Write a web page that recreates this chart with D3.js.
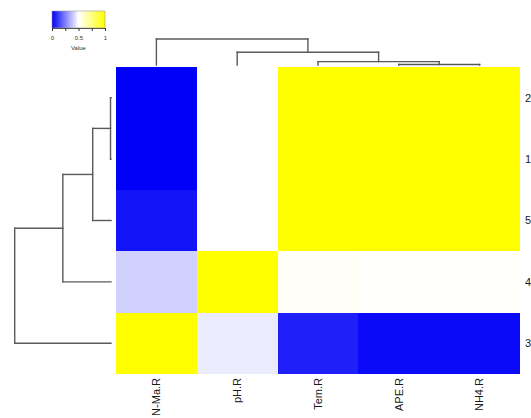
<!DOCTYPE html>
<html>
<head>
<meta charset="utf-8">
<script src="https://cdn.jsdelivr.net/npm/d3@7"></script>
<style>
  html, body { margin: 0; padding: 0; background: #fff; }
  svg { display: block; font-family: "Liberation Sans", Arial, sans-serif; }
</style>
</head>
<body>
<svg id="chart" width="531" height="418"></svg>
<script>
// ---- data ----
const colLabels = ["N-Ma.R", "pH.R", "Tem.R", "APE.R", "NH4.R"];
const rowLabels = ["2", "1", "5", "4", "3"];
const row2 = [0.00, 0.50, 1.00, 1.00, 1.00];
const row1 = [0.00, 0.50, 1.00, 1.00, 1.00];
const row5 = [0.04, 0.50, 1.00, 1.00, 1.00];
const row4 = [0.41, 1.00, 0.515, 0.505, 0.505];
const row3 = [1.00, 0.46, 0.06, 0.02, 0.02];
const values = [row2, row1, row5, row4, row3];
// dendrograms (R-style merge: negative = leaf index (1-based, in display order), positive = earlier merge)
const colMerge = [[-4, -5], [-3, 1], [-2, 2], [-1, 3]];
const colHeight = [0.02, 0.13, 0.49, 1.0];
const rowMerge = [[-1, -2], [1, -3], [2, -4], [3, -5]];
const rowHeight = [0.005, 0.19, 0.50, 1.0];
// colour key
const keyTicks = [0, 0.25, 0.5, 0.75, 1];
const keyLabels = ["0", "", "0.5", "", "1"];
const keyTitle = "Value";

// ---- layout ----
const svg = d3.select("#chart");
const hm = { x0: 116, x1: 520, y0: 67, y1: 374 };

const x = d3.scaleBand().domain(d3.range(colLabels.length)).range([hm.x0, hm.x1]);
const y = d3.scaleBand().domain(d3.range(rowLabels.length)).range([hm.y0, hm.y1]);
const color = d3.scaleLinear().domain([0, 0.5, 1]).range(["#0000f8", "#ffffff", "#ffff00"]);

// heatmap cells
const cells = [];
values.forEach((r, i) => r.forEach((v, j) => cells.push({ i, j, v })));
svg.append("g").attr("shape-rendering", "crispEdges")
  .selectAll("rect").data(cells).join("rect")
  .attr("x", d => Math.round(x(d.j)))
  .attr("y", d => Math.round(y(d.i)))
  .attr("width", d => Math.round(x(d.j) + x.bandwidth()) - Math.round(x(d.j)))
  .attr("height", d => Math.round(y(d.i) + y.bandwidth()) - Math.round(y(d.i)))
  .attr("fill", d => color(d.v));

// column labels
svg.append("g").selectAll("text").data(colLabels).join("text")
  .attr("transform", (d, j) => `translate(${x(j) + x.bandwidth() / 2},378) rotate(-90)`)
  .attr("text-anchor", "end")
  .attr("dy", "0.35em")
  .attr("font-size", 11)
  .attr("fill", "#1a1a1a")
  .text(d => d);

// row labels
svg.append("g").selectAll("text").data(rowLabels).join("text")
  .attr("x", 525)
  .attr("y", (d, i) => y(i) + y.bandwidth() / 2)
  .attr("dy", "0.35em")
  .attr("font-size", 11)
  .attr("fill", "#1a1a1a")
  .text(d => d);

// dendrogram builder
function buildDendro(merge, heights, leafPos) {
  const nodes = [];
  const segs = [];
  const get = k => k < 0 ? { pos: leafPos(-k - 1), h: 0 } : nodes[k - 1];
  merge.forEach((m, idx) => {
    const a = get(m[0]), b = get(m[1]);
    const h = heights[idx];
    segs.push({ p1: a.pos, h1: a.h, p2: a.pos, h2: h });
    segs.push({ p1: a.pos, h1: h, p2: b.pos, h2: h });
    segs.push({ p1: b.pos, h1: h, p2: b.pos, h2: b.h });
    nodes.push({ pos: (a.pos + b.pos) / 2, h });
  });
  return segs;
}

// column dendrogram (top)
const colH = d3.scaleLinear().domain([0, 1]).range([65, 39]);
const colSegs = buildDendro(colMerge, colHeight, j => x(j) + x.bandwidth() / 2);
svg.append("g").selectAll("line").data(colSegs).join("line")
  .attr("x1", d => d.p1).attr("x2", d => d.p2)
  .attr("y1", d => colH(d.h1)).attr("y2", d => colH(d.h2))
  .attr("stroke", "#5a5a5a").attr("stroke-width", 1.4).attr("stroke-linecap", "square");

// row dendrogram (left)
const rowH = d3.scaleLinear().domain([0, 1]).range([111, 14.7]);
const rowSegs = buildDendro(rowMerge, rowHeight, i => y(i) + y.bandwidth() / 2);
svg.append("g").selectAll("line").data(rowSegs).join("line")
  .attr("y1", d => d.p1).attr("y2", d => d.p2)
  .attr("x1", d => rowH(d.h1)).attr("x2", d => rowH(d.h2))
  .attr("stroke", "#5a5a5a").attr("stroke-width", 1.4).attr("stroke-linecap", "square");

// colour key
const key = { x0: 52, x1: 105, y0: 11, y1: 28 };
const kx = d3.scaleLinear().domain([0, 1]).range([key.x0, key.x1]);
const defs = svg.append("defs");
const grad = defs.append("linearGradient").attr("id", "keygrad");
d3.range(0, 1.0001, 0.05).forEach(t => {
  grad.append("stop").attr("offset", t).attr("stop-color", color(t));
});
svg.append("rect")
  .attr("x", key.x0).attr("y", key.y0)
  .attr("width", key.x1 - key.x0).attr("height", key.y1 - key.y0)
  .attr("fill", "url(#keygrad)")
  .attr("stroke", "#999").attr("stroke-width", 0.6);

const keyAxis = d3.axisBottom(kx).tickValues(keyTicks)
  .tickFormat((d, i) => keyLabels[i]).tickSize(3).tickPadding(5);
const kg = svg.append("g").attr("transform", `translate(0,${key.y1})`).call(keyAxis);
kg.select(".domain").attr("stroke", "#333").attr("stroke-width", 0.8);
kg.selectAll(".tick line").attr("stroke", "#333");
kg.selectAll("text").attr("font-size", 6).attr("fill", "#333")
  .attr("font-family", "'Liberation Sans', Arial, sans-serif");

svg.append("text")
  .attr("x", (key.x0 + key.x1) / 2).attr("y", 50)
  .attr("text-anchor", "middle")
  .attr("font-size", 6).attr("fill", "#333")
  .text(keyTitle);
</script>
</body>
</html>
